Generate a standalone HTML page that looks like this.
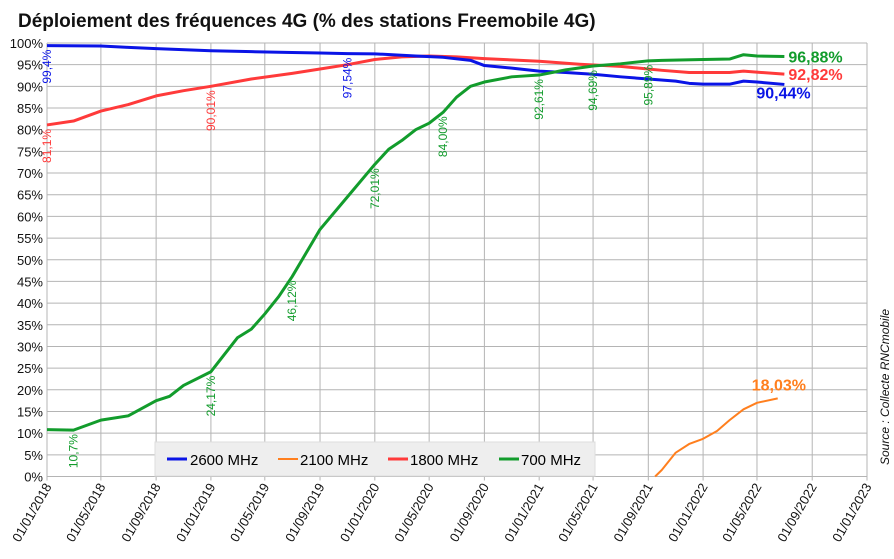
<!DOCTYPE html>
<html><head><meta charset="utf-8"><style>
body{margin:0;background:#fff;font-family:"Liberation Sans",sans-serif}
svg{display:block}
</style></head><body>
<svg id="c" width="894" height="559">
<text x="18" y="27" font-size="19" font-weight="bold" fill="#111">Déploiement des fréquences 4G (% des stations Freemobile 4G)</text>
<text transform="translate(889,465) rotate(-90)" font-size="12" font-style="italic" fill="#111">Source : Collecte RNCmobile</text>
<g id="grid"></g><g id="series"></g><g id="labels"></g>
<g>
<rect x="155" y="442" width="440" height="34" fill="#eeeeee" stroke="#ddd"/>
<g><line x1="167" y1="459" x2="187" y2="459" stroke="#0a14e6" stroke-width="3"/><text x="190" y="465" font-size="15">2600 MHz</text></g>
<g><line x1="278" y1="459" x2="298" y2="459" stroke="#ff7f1e" stroke-width="2"/><text x="300" y="465" font-size="15">2100 MHz</text></g>
<g><line x1="388" y1="459" x2="408" y2="459" stroke="#ff3a3a" stroke-width="3"/><text x="410" y="465" font-size="15">1800 MHz</text></g>
<g><line x1="499" y1="459" x2="519" y2="459" stroke="#129c2c" stroke-width="3"/><text x="521" y="465" font-size="15">700 MHz</text></g>
</g>
</svg>
<script>
const yTicks=[0,5,10,15,20,25,30,35,40,45,50,55,60,65,70,75,80,85,90,95,100];
const xTickMonths=[0,4,8,12,16,20,24,28,32,36,40,44,48,52,56,60];
const m2600=[0,4,6,8,12,15,18,20,22,24,27,29,31,32,34,36,38,40,42,44,46,47,48,50,51,52,54];
const v2600=[99.4,99.3,99.0,98.7,98.2,98.0,97.8,97.7,97.54,97.5,97.0,96.7,96.0,94.8,94.2,93.5,93.2,92.8,92.2,91.7,91.2,90.7,90.5,90.5,91.2,91.0,90.44];
const m1800=[0,2,4,6,8,10,12,15,18,20,22,24,26,28,30,32,36,39,42,44,45,47,50,51,54];
const v1800=[81.1,82.0,84.3,85.8,87.8,89.0,90.01,91.7,93.0,94.0,95.0,96.2,96.8,97.0,96.8,96.4,95.8,95.1,94.6,94.0,93.7,93.2,93.2,93.5,92.82];
const m700=[0,2,4,6,8,9,10,12,14,15,16,17,18,20,22,24,25,26,27,28,29,30,31,32,34,36,38,40,42,44,45,48,50,51,52,54];
const v700=[10.8,10.7,13.0,14.0,17.5,18.5,21,24.17,32,34,37.5,41.5,46.12,57,64.5,72.01,75.5,77.5,80,81.5,84,87.5,90,91,92.2,92.61,93.8,94.69,95.2,95.89,96.0,96.2,96.3,97.3,97.0,96.88];
const m2100=[44.5,45,46,47,48,49,50,51,52,53.5];
const v2100=[0,1.5,5.5,7.5,8.7,10.5,13,15.5,17,18.03];
const NS="http://www.w3.org/2000/svg";
const X0=47,X1=867,Y0=476.5,Y1=43;
const t0=Date.UTC(2018,0,1),t1=Date.UTC(2023,0,1);
function xs(m){const f=Math.floor(m);const t=Date.UTC(2018,f,1)+(m-f)*30.4*864e5;return X0+(t-t0)/(t1-t0)*(X1-X0);}
function ys(v){return Y0-(v/100)*(Y0-Y1);}
function mk(tag,at,parent){const e=document.createElementNS(NS,tag);for(const k in at)e.setAttribute(k,at[k]);parent.appendChild(e);return e;}
const grid=document.getElementById('grid');
yTicks.forEach(v=>{const l=mk('line',{x1:X0,x2:X1,y1:ys(v),y2:ys(v),stroke:'#b4b4b4','stroke-width':1},grid);


const t=mk('text',{x:X0-4,y:ys(v)+5,'text-anchor':'end','font-size':13,fill:'#111'},grid);t.textContent=v+'%';

});
xTickMonths.forEach(m=>{const x=xs(m);const l=mk('line',{x1:x,x2:x,y1:Y1,y2:Y0+4,stroke:'#b4b4b4','stroke-width':1},grid);


const mo=(m%12)+1,yr=2018+Math.floor(m/12);
const t=mk('text',{transform:`translate(${x+5},${Y0+10}) rotate(-60)`,'text-anchor':'end','font-size':13,fill:'#111'},grid);
t.textContent='01/'+String(mo).padStart(2,'0')+'/'+yr;

});
const ser=document.getElementById('series');
function line(ms,vs,col,w,name){const p=mk('polyline',{points:ms.map((m,i)=>xs(m)+','+ys(vs[i])).join(' '),fill:'none',stroke:col,'stroke-width':w,'stroke-linejoin':'round'},ser);

}
line(m2100,v2100,'#ff7f1e',2,'series-2100');
line(m1800,v1800,'#ff3a3a',3,'series-1800');
line(m2600,v2600,'#0a14e6',3,'series-2600');
line(m700,v700,'#129c2c',3,'series-700');
const lab=document.getElementById('labels');
function vlab(ms,vs,i,col,txt){const x=xs(ms[i]),y=ys(vs[i]);const t=mk('text',{transform:`translate(${x+4},${y+4}) rotate(-90)`,'text-anchor':'end','font-size':12,fill:col},lab);t.textContent=txt;

}
vlab(m2600,v2600,0,'#0a14e6','99,4%');vlab(m2600,v2600,8,'#0a14e6','97,54%');
vlab(m1800,v1800,0,'#ff3a3a','81,1%');vlab(m1800,v1800,6,'#ff3a3a','90,01%');
vlab(m700,v700,1,'#129c2c','10,7%');vlab(m700,v700,7,'#129c2c','24,17%');vlab(m700,v700,12,'#129c2c','46,12%');
vlab(m700,v700,15,'#129c2c','72,01%');vlab(m700,v700,20,'#129c2c','84,00%');vlab(m700,v700,25,'#129c2c','92,61%');
vlab(m700,v700,27,'#129c2c','94,69%');vlab(m700,v700,29,'#129c2c','95,89%');
function elab(ms,vs,col,txt,dx,dy){const x=xs(ms[ms.length-1]),y=ys(vs[vs.length-1]);const t=mk('text',{x:x+dx,y:y+dy,'font-size':16,'font-weight':'bold',fill:col},lab);t.textContent=txt;

}
elab(m700,v700,'#129c2c','96,88%',4,6);elab(m1800,v1800,'#ff3a3a','92,82%',4,6);
elab(m2600,v2600,'#0a14e6','90,44%',-28,14);elab(m2100,v2100,'#ff7f1e','18,03%',-26,-8);
</script>
</body></html>
